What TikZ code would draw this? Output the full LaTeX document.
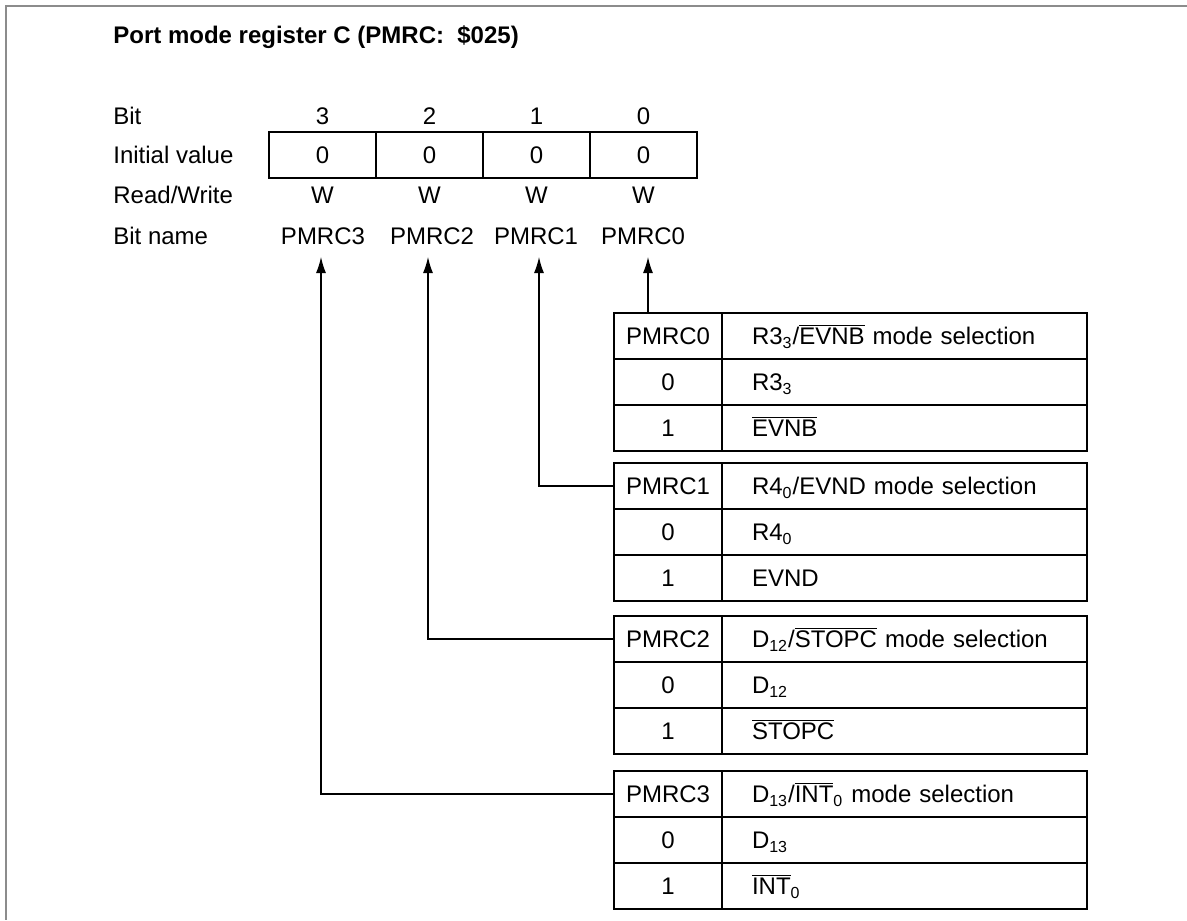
\documentclass[tikz,border=0pt]{standalone}
\usepackage{fontspec}
\setmainfont{Liberation Sans}
\usetikzlibrary{arrows.meta}
\newcommand{\ovl}[1]{$\overline{\mbox{#1}}$}
\tikzset{
  txt/.style={inner sep=0pt, text height=8.6pt, text depth=0pt, font=\fontsize{12pt}{14pt}\selectfont},
  cell/.style={txt, draw, line width=0.6pt, minimum height=23pt},
  bitcell/.style={cell, minimum width=53.5pt},
  keycell/.style={cell, minimum width=54pt},
  desccell/.style={cell, text width=152.5pt, inner xsep=15pt, align=left},
  link/.style={line width=0.6pt},
  tip/.style={link, -{Latex[length=8pt,width=5pt]}}
}

\begin{document}
\begin{tikzpicture}[x=0.5pt,y=-0.5pt]
\useasboundingbox (0,0) rectangle (1187,920);
% page frame
\draw[black!45, line width=0.7pt] (1187,6) -- (6,6) -- (6,920);
\node[txt, anchor=west, font=\fontsize{12pt}{14pt}\selectfont\bfseries] (title) at (113,35) {Port mode register C (PMRC:\ \ \$025)};

% register layout
\node[txt, anchor=west] (lbit) at (113,116) {Bit};
\node[txt, anchor=west] (linit) at (113,155) {Initial value};
\node[txt, anchor=west] (lrw) at (113,195) {Read/Write};
\node[txt, anchor=west] (lname) at (113,236) {Bit name};
\foreach \b/\x in {3/322.5, 2/429.5, 1/536.5, 0/643.5} {
  \node[txt] (num\b) at (\x,116) {\b};
  \node[bitcell] (cell\b) at (\x,155) {0};
  \node[txt] (rw\b) at (\x,195) {W};
}
\foreach \b/\x in {3/323, 2/432, 1/536, 0/643}
  \node[txt] (name\b) at (\x,236) {PMRC\b};
\foreach \b/\x in {3/321, 2/428, 1/539, 0/648}
  \coordinate (tip\b) at (\x,257);

% selection tables
\foreach \n/\t/\desc/\zero/\one in {
  0/313/{R3\textsubscript{3}/\ovl{EVNB} mode selection}/{R3\textsubscript{3}}/{\ovl{EVNB}},
  1/463/{R4\textsubscript{0}/EVND mode selection}/{R4\textsubscript{0}}/{EVND},
  2/616/{D\textsubscript{12}/\ovl{STOPC} mode selection}/{D\textsubscript{12}}/{\ovl{STOPC}},
  3/771/{D\textsubscript{13}/\ovl{INT}\textsubscript{0} mode selection}/{D\textsubscript{13}}/{\ovl{INT}\textsubscript{0}}} {
  \node[keycell] (reg\n) at (668,{\t+23}) {PMRC\n};
  \node[desccell] (desc\n) at (904.5,{\t+23}) {\desc};
  \node[keycell] (kz\n) at (668,{\t+69}) {0};
  \node[desccell] (vz\n) at (904.5,{\t+69}) {\zero};
  \node[keycell] (ko\n) at (668,{\t+115}) {1};
  \node[desccell] (vo\n) at (904.5,{\t+115}) {\one};
}

% connectors
\draw[tip] (reg0.north -| tip0) -- (tip0);
\draw[tip] (reg1.west) -| (tip1);
\draw[tip] (reg2.west) -| (tip2);
\draw[tip] (reg3.west) -| (tip3);
\end{tikzpicture}
\end{document}
